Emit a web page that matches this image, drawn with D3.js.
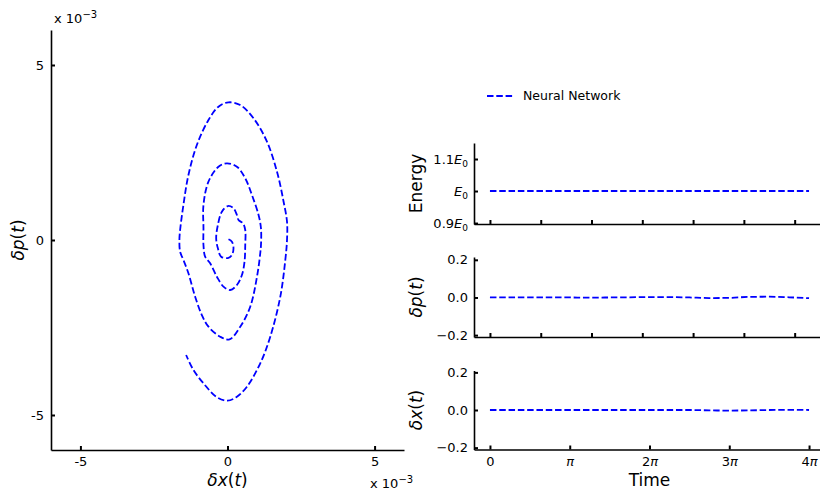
<!DOCTYPE html>
<html><head><meta charset="utf-8">
<script src="https://cdn.jsdelivr.net/npm/d3@7"></script>
<style>
body{margin:0;background:#fff;}
text{font-family:"DejaVu Sans",sans-serif;fill:#000;}
</style></head>
<body><svg id="c" width="820" height="492"></svg>
<script>
// Phase-space trajectory (units of 1e-3)
const phaseX = [0.034,0.15,0.204,0.15,0.034,-0.215,-0.327,-0.385,-0.327,-0.191,0.014,0.204,0.32,0.375,0.525,0.603,0.603,0.579,0.49,0.32,0.092,-0.136,-0.361,-0.589,-0.76,-0.817,-0.817,-0.817,-0.647,-0.307,-0.02,0.32,0.603,0.831,1.056,1.138,1.138,1.114,1.022,0.773,0.433,0.068,-0.249,-0.647,-0.872,-1.1,-1.328,-1.499,-1.611,-1.635,-1.611,-1.499,-1.328,-1.042,-0.647,-0.307,0.034,0.433,0.886,1.342,1.683,1.907,2.023,2.023,1.965,1.795,1.454,1.114,0.661,0.32,0,-0.361,-0.817,-1.158,-1.407];
const phaseP = [0.02,-0.049,-0.237,-0.429,-0.514,-0.477,-0.237,0.049,0.429,0.809,0.971,0.906,0.714,0.571,0.477,0.286,-0.143,-0.62,-1.0,-1.286,-1.429,-1.334,-1.049,-0.666,-0.477,-0.143,0.334,1.0,1.666,2.094,2.191,2.094,1.763,1.286,0.714,0.334,-0.143,-0.371,-0.951,-1.906,-2.477,-2.837,-2.763,-2.477,-2.143,-1.62,-0.951,-0.571,-0.334,0,0.286,1.0,1.857,2.714,3.429,3.809,3.934,3.857,3.477,2.809,1.951,1.094,0.523,0,-0.571,-1.62,-2.763,-3.523,-4.191,-4.477,-4.591,-4.494,-4.094,-3.714,-3.286];

// Time series (time in multiples of pi)
const timePi = [0,0.25,0.5,0.75,1,1.25,1.5,1.75,2,2.25,2.5,2.75,3,3.25,3.5,3.75,4];
const energy = [1,1,1,1,1,1,1,1,1,1,1,1,1,1,1,1,1];
const dP = [0,0,0,0,0,-0.001,0,0.001,0.002,0.002,0,-0.003,-0.002,0.003,0.004,0.001,-0.004];
const dX = [0,0,0,0,0,0,0,0,0,0,0,-0.002,-0.003,-0.002,0,0.001,0];

const phaseTicks = [-5,0,5];
const energyTicks = [0.9,1.0,1.1];
const energyTickLabels = [["0.9","E","0"],["","E","0"],["1.1","E","0"]];
const devTicks = [-0.2,0.0,0.2];
const devTickLabels = ["\u22120.2","0.0","0.2"];
const numTicks = [0,2,4,6,8,10,12];
const piTicks = [0,1,2,3,4];
const piTickLabels = ["0","\u03c0","2\u03c0","3\u03c0","4\u03c0"];
const seriesName = "Neural Network";

const svg = d3.select("#c");
const BLUE = "#0000ff";
const DASH = "6.5,2.8";
const LW = 1.8;

function styleAxis(g){
  g.select(".domain").attr("stroke","#000").attr("stroke-width",1.6);
  g.selectAll(".tick line").attr("stroke","#000").attr("stroke-width",2);
  g.selectAll(".tick text").attr("font-size",13).attr("font-family","DejaVu Sans");
}

// ---------- Left phase plot ----------
const xL = d3.scaleLinear([-6,6],[51,404]);
const yL = d3.scaleLinear([-6,6],[450,30]);
svg.append("g").attr("transform","translate(0,450)")
  .call(d3.axisBottom(xL).tickValues(phaseTicks).tickFormat(d=>d<0?"-"+(-d):d).tickSizeInner(-4).tickSizeOuter(0).tickPadding(7))
  .call(styleAxis);
svg.append("g").attr("transform","translate(51,0)")
  .call(d3.axisLeft(yL).tickValues(phaseTicks).tickFormat(d=>d<0?"-"+(-d):d).tickSizeInner(-4).tickSizeOuter(0).tickPadding(7))
  .call(styleAxis);

const phasePts = phaseX.map((x,i)=>[x,phaseP[i]]);
svg.append("path").datum(phasePts)
  .attr("d", d3.line().x(d=>xL(d[0])).y(d=>yL(d[1])).curve(d3.curveCatmullRom.alpha(0.5)))
  .attr("fill","none").attr("stroke",BLUE).attr("stroke-width",LW).attr("stroke-dasharray",DASH);

function offsetText(x,y){
  const t = svg.append("text").attr("x",x).attr("y",y).attr("font-size",13);
  t.append("tspan").text("x 10");
  t.append("tspan").attr("dy",-5).attr("font-size",10).text("\u22123");
}
offsetText(54,23);
offsetText(370,488);

function mathLabel(sel, parts){
  parts.forEach(p=>{
    sel.append("tspan").attr("font-style",p[1]?"italic":"normal").text(p[0]);
  });
}
const lx = svg.append("text").attr("x",xL(0)).attr("y",486).attr("text-anchor","middle").attr("font-size",17);
mathLabel(lx,[["\u03b4",1],["x",1],["(",0],["t",1],[")",0]]);
const ly = svg.append("text").attr("transform",`translate(24,${yL(0)}) rotate(-90)`).attr("text-anchor","middle").attr("font-size",17);
mathLabel(ly,[["\u03b4",1],["p",1],["(",0],["t",1],[")",0]]);

// ---------- Right panels ----------
const xR = d3.scaleLinear([-0.2*Math.PI,4.2*Math.PI],[474,825]);
const panels = [
  {y:d3.scaleLinear([0.897,1.15],[224,143]), data:energy, ticks:energyTicks, label:"Energy", kind:"E"},
  {y:d3.scaleLinear([-0.21,0.215],[337,257]), data:dP, ticks:devTicks, label:[["\u03b4",1],["p",1],["(",0],["t",1],[")",0]], kind:"d"},
  {y:d3.scaleLinear([-0.21,0.21],[449.5,370.5]), data:dX, ticks:devTicks, label:[["\u03b4",1],["x",1],["(",0],["t",1],[")",0]], kind:"d", bottom:true}
];
panels.forEach(p=>{
  const [yb,yt] = p.y.range();
  const gx = svg.append("g").attr("transform",`translate(0,${yb})`);
  if(p.bottom){
    gx.call(d3.axisBottom(xR).tickValues(piTicks.map(v=>v*Math.PI)).tickFormat((d,i)=>piTickLabels[i]).tickSizeInner(-4).tickSizeOuter(0).tickPadding(7)).call(styleAxis);
    gx.selectAll(".tick text").each(function(d,i){
      const s = d3.select(this); const lab = piTickLabels[i]; s.text("");
      if(lab.length>1 || lab==="\u03c0"){
        const n = lab.slice(0,-1); if(n) s.append("tspan").text(n);
        s.append("tspan").attr("font-style","italic").text("\u03c0");
      } else s.text(lab);
    });
  } else {
    gx.call(d3.axisBottom(xR).tickValues(numTicks).tickFormat("").tickSizeInner(-4).tickSizeOuter(0)).call(styleAxis);
  }
  const gy = svg.append("g").attr("transform","translate(474,0)");
  gy.call(d3.axisLeft(p.y).tickValues(p.ticks).tickSizeInner(-4).tickSizeOuter(0).tickPadding(6)).call(styleAxis);
  gy.selectAll(".tick text").each(function(d,i){
    const s = d3.select(this); s.text("");
    if(p.kind==="E"){
      const lab = energyTickLabels[i];
      if(lab[0]) s.append("tspan").text(lab[0]);
      s.append("tspan").attr("font-style","italic").text(lab[1]);
      s.append("tspan").attr("font-size",9).attr("dy",3).text(lab[2]);
    } else s.text(devTickLabels[i]);
  });
  svg.append("path").datum(timePi.map((t,i)=>[t*Math.PI,p.data[i]]))
    .attr("d", d3.line().x(d=>xR(d[0])).y(d=>p.y(d[1])).curve(d3.curveMonotoneX))
    .attr("fill","none").attr("stroke",BLUE).attr("stroke-width",LW).attr("stroke-dasharray",DASH);
  const lab = svg.append("text").attr("transform",`translate(422,${(yb+yt)/2}) rotate(-90)`).attr("text-anchor","middle").attr("font-size",17);
  if(typeof p.label==="string") lab.text(p.label); else mathLabel(lab,p.label);
});
svg.append("text").attr("x",xR(2*Math.PI)).attr("y",486).attr("text-anchor","middle").attr("font-size",17).text("Time");

// Legend
svg.append("line").attr("x1",487).attr("x2",514).attr("y1",96).attr("y2",96)
  .attr("stroke",BLUE).attr("stroke-width",LW).attr("stroke-dasharray",DASH);
svg.append("text").attr("x",523).attr("y",100).attr("font-size",12.5).text(seriesName);
</script></body></html>
